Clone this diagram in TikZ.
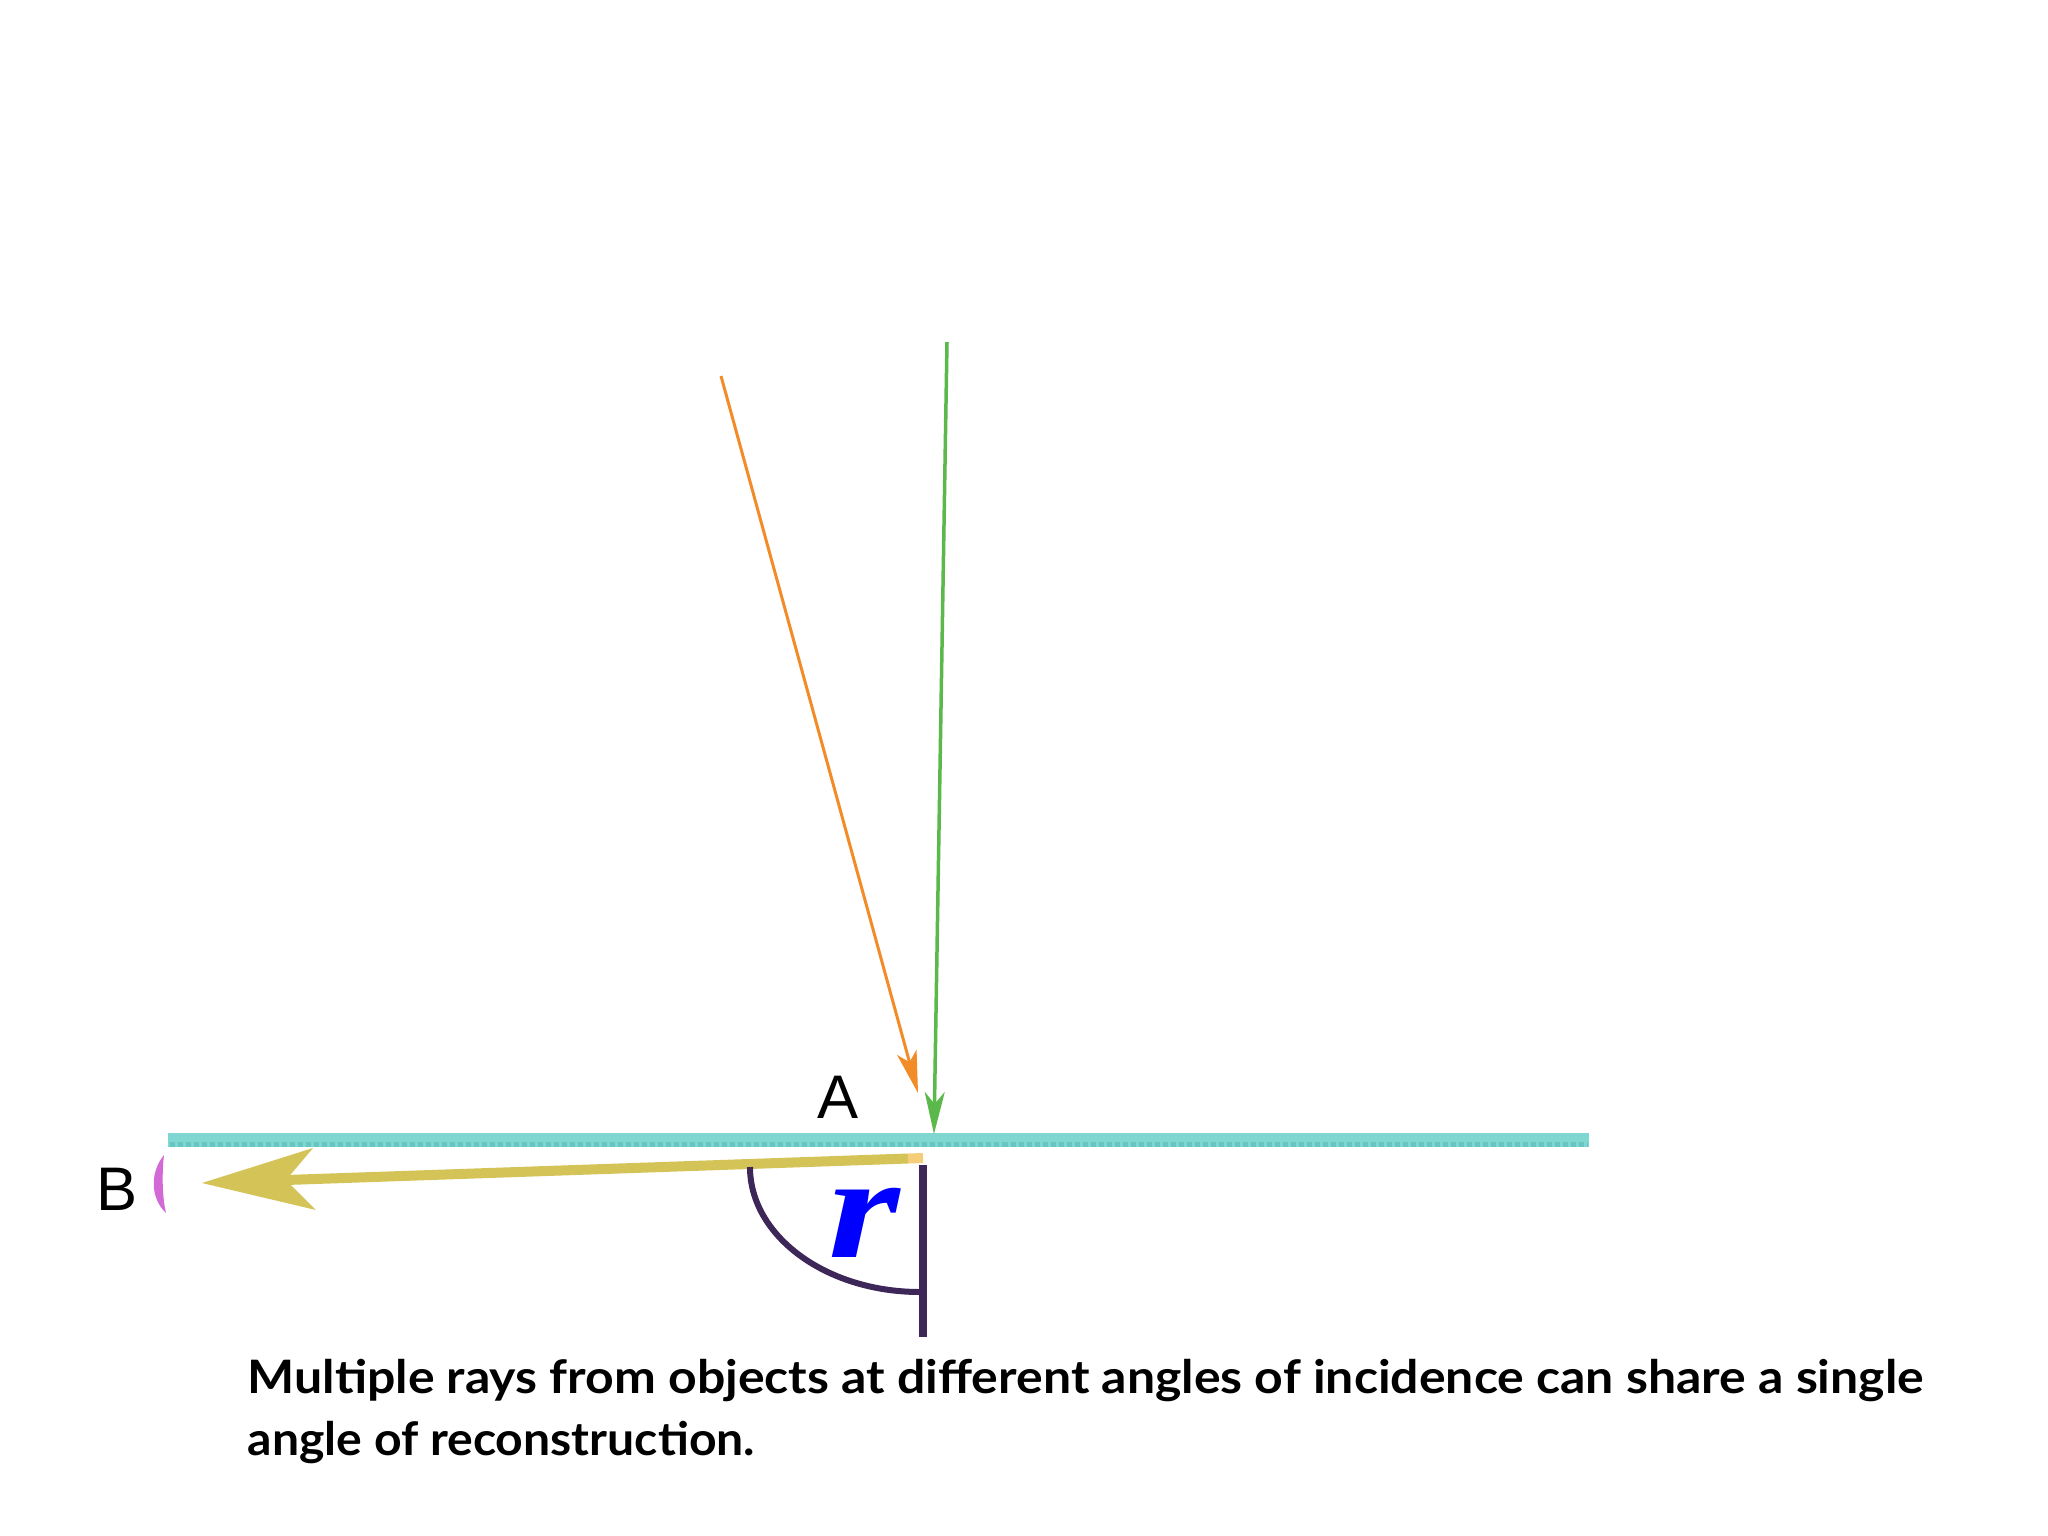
\documentclass[tikz,border=0pt]{standalone}
\usepackage{fontspec}
\usepackage{graphicx}
\setmainfont{Liberation Sans}
\newfontfamily\captfont{Lato}
\newfontfamily\rfont{Liberation Serif}
\usetikzlibrary{arrows.meta}
\definecolor{rayorange}{RGB}{242,140,40}
\definecolor{raygreen}{RGB}{91,184,74}
\definecolor{surfcyan}{RGB}{128,214,209}
\definecolor{surfcyandark}{RGB}{104,198,194}
\definecolor{rayyellow}{RGB}{212,196,88}
\definecolor{raytip}{RGB}{246,205,120}
\definecolor{anglepurple}{RGB}{61,38,88}
\definecolor{markmagenta}{RGB}{210,105,215}
\tikzset{
  labeltext/.style={inner sep=0pt, font=\fontsize{17.5pt}{20pt}\selectfont},
  captline/.style={inner sep=0pt, anchor=base west, font=\captfont\bfseries\fontsize{13.1pt}{16pt}\selectfont},
  incray/.style={line width=0.03cm},
}
\begin{document}
\begin{tikzpicture}[x=0.01cm,y=-0.01cm]
\useasboundingbox[fill=white] (0,0) rectangle (2048,1536);
% coordinates
\coordinate (o1) at (721,376);
\coordinate (o2) at (918,1093);
\coordinate (g1) at (947,342);
\coordinate (g2) at (934,1134);
\coordinate (s1) at (168,1140);
\coordinate (s2) at (1589,1140);
\coordinate (t1) at (170,1144);
\coordinate (t2) at (1587,1144);
\coordinate (yA) at (923,1158);
\coordinate (yT) at (908,1158.5);
\coordinate (yN) at (286,1180);
\coordinate (yTip) at (202,1183);
\coordinate (yUp) at (313,1148);
\coordinate (yLo) at (316,1210);
\coordinate (p1) at (923,1165);
\coordinate (p2) at (923,1337);
\coordinate (a1) at (750,1167);
\coordinate (a2) at (920,1292);
% surface
\draw[surfcyan, line width=0.14cm] (s1) -- (s2);
\draw[surfcyandark, line width=0.05cm, dash pattern=on 0.05cm off 0.03cm] (t1) -- (t2);
% reconstructed ray
\draw[rayyellow, line width=0.1cm] (yT) -- (yN);
\draw[raytip, line width=0.1cm] (yA) -- (yT);
\fill[rayyellow] (yTip) -- (yUp) -- (yN) -- (yLo) -- cycle;
% incident rays
\draw[incray, rayorange, -{Stealth[length=0.42cm, width=0.2cm, inset=0.1cm]}] (o1) -- (o2);
\draw[incray, raygreen, line width=0.035cm, -{Stealth[length=0.42cm, width=0.2cm, inset=0.12cm]}] (g1) -- (g2);
% angle
\draw[anglepurple, line width=0.08cm] (p1) -- (p2);
\draw[anglepurple, line width=0.06cm] (a1) .. controls (750,1236) and (826,1292) .. (a2);
% magenta mark
\fill[markmagenta] (164,1155) .. controls (150,1172) and (150,1198) .. (166,1213) .. controls (162,1196) and (162,1172) .. cycle;
% labels
\node[labeltext] (A) at (838,1097) {A};
\node[labeltext] (B) at (117,1189) {B};
\node[inner sep=0pt, text=blue, font=\rfont\bfseries\itshape\fontsize{41.8pt}{44pt}\selectfont] (r) at (864,1223) {\scalebox{1.25}[1]{r}};
% caption
\node[captline] (c1) at (247,1393) {\resizebox{16.75cm}{\height}{Multiple rays from objects at different angles of incidence can share a single}};
\node[captline] (c2) at (247,1455) {\resizebox{5.07cm}{\height}{angle of reconstruction.}};
\end{tikzpicture}
\end{document}
